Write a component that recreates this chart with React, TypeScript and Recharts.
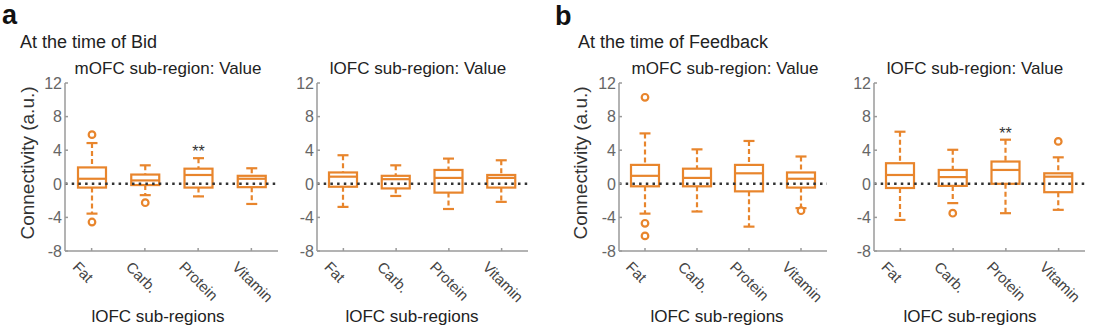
import { ComposedChart, Bar, XAxis, YAxis, ReferenceLine } from "recharts";

const categories = ["Fat", "Carb.", "Protein", "Vitamin"];
const yTicks = [-8, -4, 0, 4, 8, 12];

// each row: [lower whisker, q1, median, q3, upper whisker]
const bidMofcStats = [
  [-3.55, -0.45, 0.6, 1.95, 4.85],
  [-1.35, -0.15, 0.4, 1.1, 2.2],
  [-1.5, -0.45, 1.05, 1.8, 3.05],
  [-2.4, -0.4, 0.6, 0.95, 1.85],
];
const bidMofcOutliers = [[5.85, -4.55], [-2.25], [], []];
const bidMofcStars = ["", "", "**", ""];

const bidLofcStats = [
  [-2.75, -0.35, 0.85, 1.35, 3.4],
  [-1.45, -0.55, 0.55, 0.95, 2.2],
  [-3.0, -1.05, 0.7, 1.65, 3.0],
  [-2.15, -0.45, 0.7, 1.05, 2.8],
];
const bidLofcOutliers = [[], [], [], []];
const bidLofcStars = ["", "", "", ""];

const fbMofcStats = [
  [-3.55, -0.3, 0.95, 2.25, 6.0],
  [-3.3, -0.3, 0.7, 1.8, 4.1],
  [-5.1, -0.9, 1.25, 2.25, 5.1],
  [-2.9, -0.45, 0.6, 1.35, 3.25],
];
const fbMofcOutliers = [[10.3, -4.7, -6.2], [], [], [-3.2]];
const fbMofcStars = ["", "", "", ""];

const fbLofcStats = [
  [-4.3, -0.5, 1.05, 2.45, 6.2],
  [-2.3, -0.25, 0.8, 1.65, 4.05],
  [-3.5, 0, 1.65, 2.65, 5.25],
  [-3.1, -1.0, 0.85, 1.25, 3.15],
];
const fbLofcOutliers = [[], [-3.5], [], [5.05]];
const fbLofcStars = ["", "", "**", ""];

const ORANGE = "#E8852C";
const FONT = "'Liberation Sans', Arial, Helvetica, sans-serif";
const AXIS_GRAY = "#9a9a9a";

const PLOT_TOP = 83;
const PLOT_BOTTOM = 251;
const CHART_H = 332;
const Y_AXIS_W = 40;

function BoxShape(props: any) {
  const { x, y, width, height, payload } = props;
  const [lo, q1, med, q3, hi] = payload.stats;
  const top = Math.min(y, y + height);
  const span = Math.abs(height);
  const toY = (v: number) => top + (span * (hi - v)) / (hi - lo);
  const cx = x + width / 2;
  const cap = 5.5;
  const sw = 2.2;
  return (
    <g>
      <line x1={cx} x2={cx} y1={toY(hi)} y2={toY(q3)} stroke={ORANGE} strokeWidth={sw} strokeDasharray="5 3" />
      <line x1={cx} x2={cx} y1={toY(q1)} y2={toY(lo)} stroke={ORANGE} strokeWidth={sw} strokeDasharray="5 3" />
      <line x1={cx - cap} x2={cx + cap} y1={toY(hi)} y2={toY(hi)} stroke={ORANGE} strokeWidth={sw} />
      <line x1={cx - cap} x2={cx + cap} y1={toY(lo)} y2={toY(lo)} stroke={ORANGE} strokeWidth={sw} />
      <rect x={x} y={toY(q3)} width={width} height={toY(q1) - toY(q3)} fill="none" stroke={ORANGE} strokeWidth={sw} />
      <line x1={x} x2={x + width} y1={toY(med)} y2={toY(med)} stroke={ORANGE} strokeWidth={sw} />
      {payload.outliers.map((v: number, i: number) => (
        <circle key={i} cx={cx} cy={toY(v)} r={3.3} fill="#fff" stroke={ORANGE} strokeWidth={sw} />
      ))}
      {payload.star ? (
        <text x={cx} y={toY(hi) - 1} textAnchor="middle" fontFamily={FONT} fontSize={16} fill="#333">
          {payload.star}
        </text>
      ) : null}
    </g>
  );
}

function XTick(props: any) {
  const { x, y, payload } = props;
  return (
    <g>
      <line x1={x} x2={x} y1={y} y2={y - 3} stroke={AXIS_GRAY} strokeWidth={1.5} />
      <text
        x={x - 20}
        y={y + 17}
        transform={`rotate(45 ${x - 20} ${y + 17})`}
        textAnchor="start"
        fontFamily={FONT}
        fontSize={15}
        fill="#444"
      >
        {payload.value}
      </text>
    </g>
  );
}

function YTick(props: any) {
  const { x, y, payload } = props;
  return (
    <g>
      <line x1={x} x2={x + 3} y1={y} y2={y} stroke={AXIS_GRAY} strokeWidth={1.5} />
      <text x={x - 3} y={y} dy="0.36em" textAnchor="end" fontFamily={FONT} fontSize={16} fill="#666">
        {payload.value}
      </text>
    </g>
  );
}

interface PanelProps {
  left: number;
  right: number;
  stats: number[][];
  outliers: number[][];
  stars: string[];
}

function BoxPanel({ left, right, stats, outliers, stars }: PanelProps) {
  const data = categories.map((name, i) => ({
    name,
    stats: stats[i],
    outliers: outliers[i],
    star: stars[i],
  }));
  const chartLeft = left - Y_AXIS_W;
  const width = right - chartLeft + 12;
  return (
    <div style={{ position: "absolute", left: chartLeft, top: 0 }}>
      <ComposedChart
        width={width}
        height={CHART_H}
        data={data}
        margin={{ top: PLOT_TOP, right: 12, bottom: 0, left: 0 }}
      >
        <XAxis
          dataKey="name"
          type="category"
          height={CHART_H - PLOT_BOTTOM}
          tickSize={0}
          tickMargin={0}
          tickLine={false}
          axisLine={{ stroke: AXIS_GRAY, strokeWidth: 1.5 }}
          tick={<XTick />}
          interval={0}
        />
        <YAxis
          type="number"
          domain={[-8, 12]}
          ticks={yTicks}
          width={Y_AXIS_W}
          tickSize={0}
          tickMargin={0}
          tickLine={false}
          axisLine={{ stroke: AXIS_GRAY, strokeWidth: 1.5 }}
          tick={<YTick />}
          interval={0}
        />
        <ReferenceLine y={0} stroke="#333" strokeWidth={2.5} strokeDasharray="2.5 4.2" />
        <Bar
          dataKey={(d: any) => [d.stats[0], d.stats[4]]}
          barSize={28}
          shape={<BoxShape />}
          isAnimationActive={false}
        />
      </ComposedChart>
    </div>
  );
}

const panels = [
  { left: 65, right: 278, stats: bidMofcStats, outliers: bidMofcOutliers, stars: bidMofcStars },
  { left: 317, right: 528, stats: bidLofcStats, outliers: bidLofcOutliers, stars: bidLofcStars },
  { left: 619, right: 827, stats: fbMofcStats, outliers: fbMofcOutliers, stars: fbMofcStars },
  { left: 874, right: 1085, stats: fbLofcStats, outliers: fbLofcOutliers, stars: fbLofcStars },
];

const panelTitles = [
  "mOFC sub-region: Value",
  "lOFC sub-region: Value",
  "mOFC sub-region: Value",
  "lOFC sub-region: Value",
];
const titleCenters = [168, 418, 725, 975];
const xTitleCenters = [158, 412, 717, 970];
const yLabelCenters = [27, 580];

export default function App() {
  return (
    <div
      style={{
        position: "absolute",
        left: 0,
        top: 0,
        width: 1107,
        height: 332,
        background: "#fff",
        overflow: "hidden",
      }}
    >
      {panels.map((p, i) => (
        <BoxPanel key={i} {...p} />
      ))}
      <svg width={1107} height={332} style={{ position: "absolute", left: 0, top: 0, pointerEvents: "none" }}>
        <text x={2} y={24} fontFamily={FONT} fontSize={27} fontWeight="bold" fill="#111">a</text>
        <text x={555} y={25} fontFamily={FONT} fontSize={27} fontWeight="bold" fill="#111">b</text>
        <text x={20} y={48} fontFamily={FONT} fontSize={18} fill="#222">At the time of Bid</text>
        <text x={578} y={48} fontFamily={FONT} fontSize={18} fill="#222">At the time of Feedback</text>
        {panelTitles.map((t, i) => (
          <text key={t + i} x={titleCenters[i]} y={74} textAnchor="middle" fontFamily={FONT} fontSize={17} fill="#222">
            {t}
          </text>
        ))}
        {xTitleCenters.map((cx, i) => (
          <text key={i} x={cx} y={322} textAnchor="middle" fontFamily={FONT} fontSize={17} fill="#222">
            lOFC sub-regions
          </text>
        ))}
        {yLabelCenters.map((cx, i) => (
          <text
            key={i}
            x={cx}
            y={163}
            dy="0.35em"
            transform={`rotate(-90 ${cx} 163)`}
            textAnchor="middle"
            fontFamily={FONT}
            fontSize={19}
            fill="#333"
          >
            Connectivity (a.u.)
          </text>
        ))}
      </svg>
    </div>
  );
}
